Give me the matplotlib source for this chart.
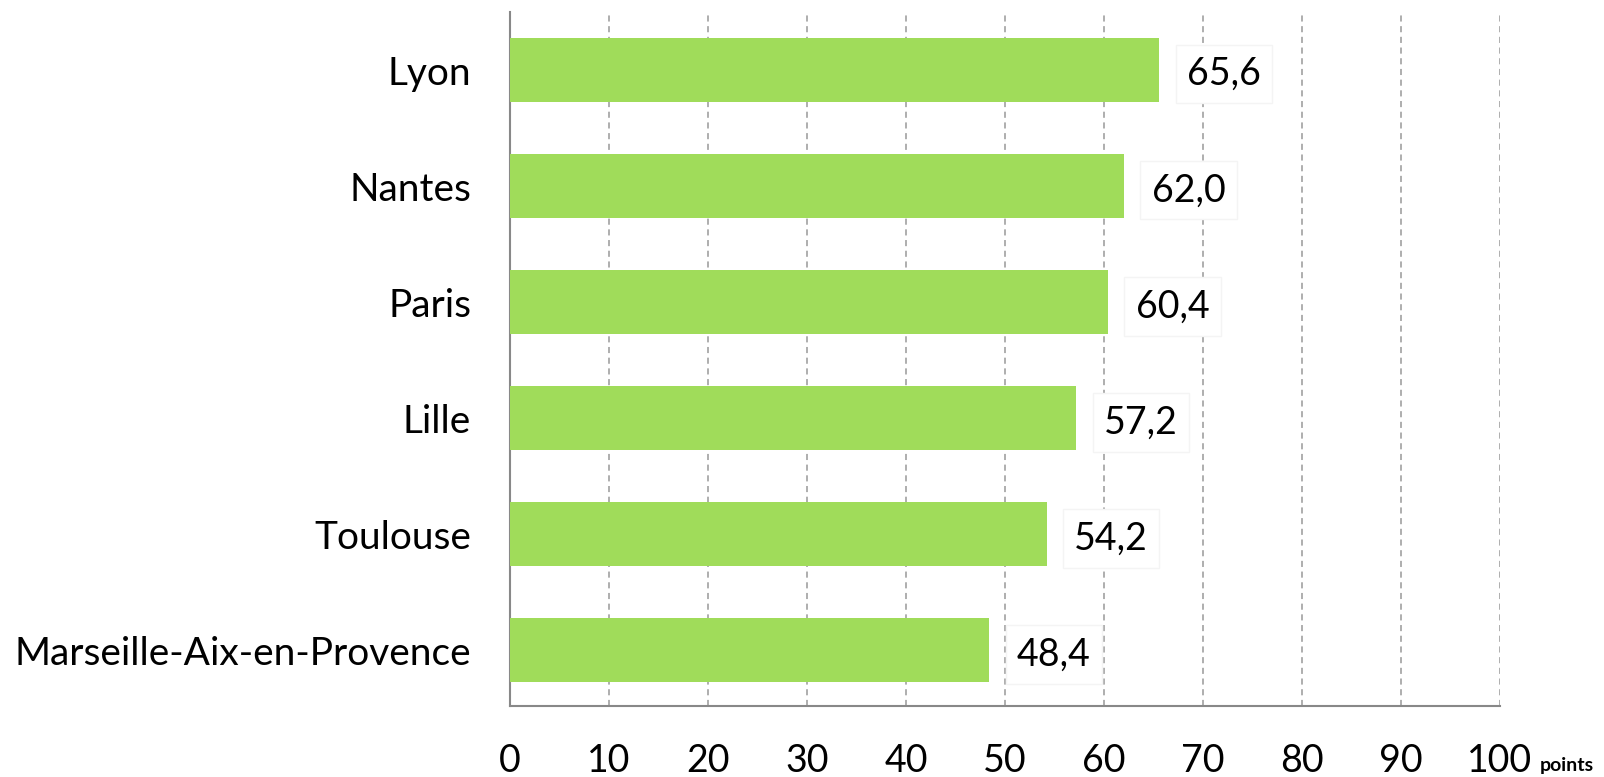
import matplotlib.pyplot as plt

cities = ['Marseille-Aix-en-Provence', 'Toulouse', 'Lille', 'Paris', 'Nantes', 'Lyon']
scores = [48.4, 54.2, 57.2, 60.4, 62.0, 65.6]
xticks = list(range(0, 101, 10))

plt.rcParams['font.family'] = ['Lato', 'DejaVu Sans']

fig = plt.figure(figsize=(16.04, 7.77), dpi=100)
ax = fig.add_axes([510 / 1604, 1 - 706 / 777, 990 / 1604, 694 / 777])

ax.barh(range(len(cities)), scores, height=0.55, color='#a0dc5a', zorder=3)
ax.set_yticks(range(len(cities)))
ax.set_yticklabels(cities, fontsize=28)
ax.set_ylim(-0.48, 5.5)
ax.set_xlim(0, 100)
ax.set_xticks(xticks)
ax.set_xticklabels([str(t) for t in xticks], fontsize=27)
ax.tick_params(axis='x', length=0, pad=27)
ax.tick_params(axis='y', length=0, pad=28)

ax.grid(axis='x', color='#999999', linestyle=(0, (4, 3)), linewidth=1.1, zorder=0)
for s in ['top', 'right']:
    ax.spines[s].set_visible(False)
for s in ['left', 'bottom']:
    ax.spines[s].set_color('#888888')
    ax.spines[s].set_linewidth(1.5)

for i, v in enumerate(scores):
    ax.annotate(f'{v:.1f}'.replace('.', ','), (v, i), xytext=(20, -3), textcoords='offset points',
                ha='left', va='center', fontsize=27, zorder=4,
                bbox=dict(boxstyle='square,pad=0.3', fc='white', ec='#f4f4f4', lw=1))

fig.text(1540 / 1604, 1 - 765 / 777, 'points', fontsize=14, fontweight='bold', va='center', ha='left')

fig.savefig('out.png')
